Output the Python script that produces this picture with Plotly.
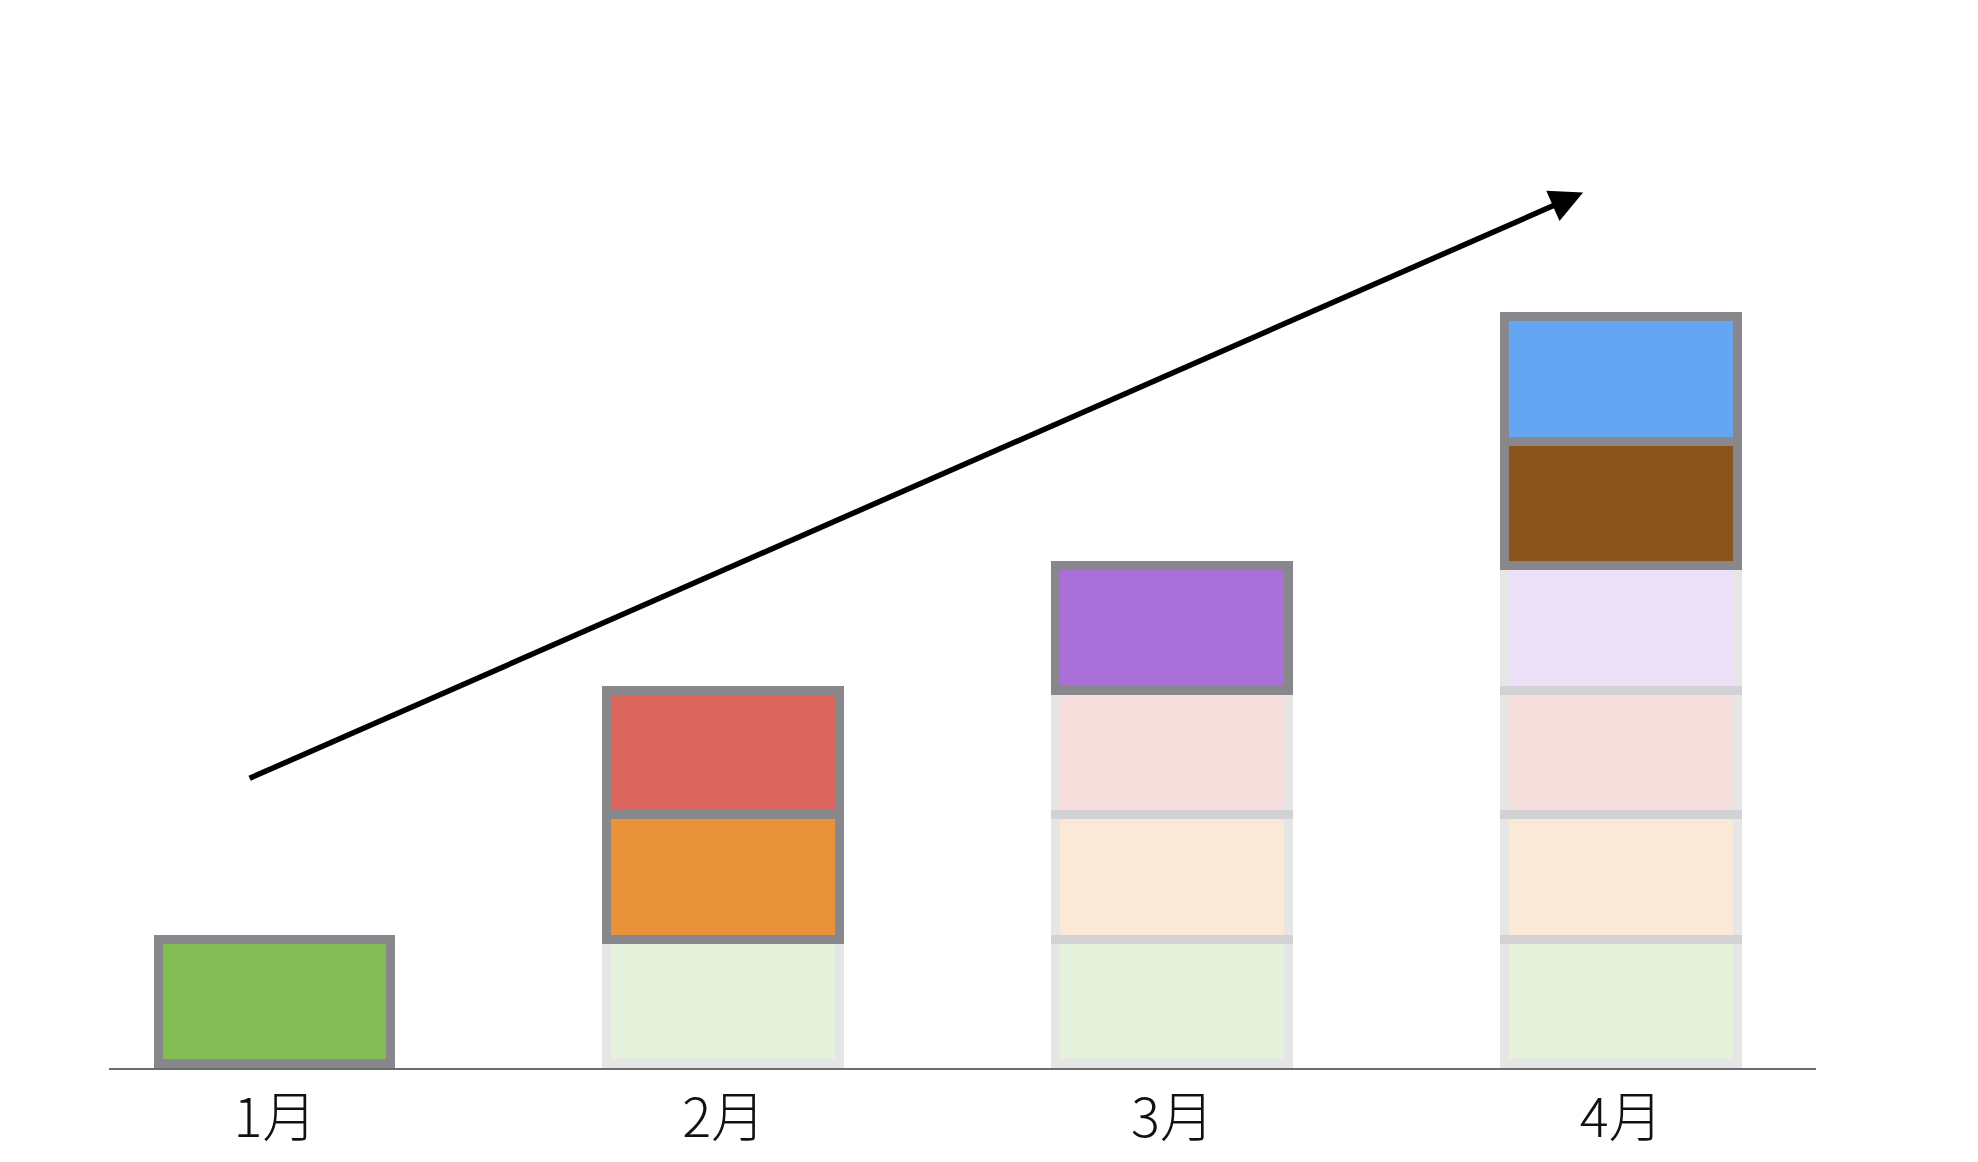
import plotly.graph_objects as go

# ---- data ----
months = ["1月", "2月", "3月", "4月"]

layer_names = ["green", "orange", "red", "purple", "brown", "blue"]
layer_values = [
    [1, 1, 1, 1],
    [None, 1, 1, 1],
    [None, 1, 1, 1],
    [None, None, 1, 1],
    [None, None, None, 1],
    [None, None, None, 1],
]
# month index at which each layer is "new" (highlighted)
layer_new_month = [0, 1, 1, 2, 3, 3]
layer_colors = ["#84BC55", "#E8933A", "#DB665E", "#A970DA", "#8B541D", "#65A6F3"]

# trend arrow (data coordinates: tail -> head)
arrow_tail = (-0.06, 2.29)
arrow_head = (2.915, 7.0)

# ---- figure ----
fig = go.Figure()
x_idx = list(range(len(months)))
for name, vals, new_m, col in zip(layer_names, layer_values, layer_new_month, layer_colors):
    opac = [1.0 if i == new_m else 0.2 for i in x_idx]
    fig.add_trace(go.Bar(
        x=x_idx, y=vals, name=name,
        width=0.519,
        marker=dict(color=col, opacity=opac,
                    line=dict(color="#88888C", width=9)),
        hoverinfo="skip",
    ))

fig.add_annotation(
    x=arrow_head[0], y=arrow_head[1], ax=arrow_tail[0], ay=arrow_tail[1],
    xref="x", yref="y", axref="x", ayref="y",
    showarrow=True, arrowhead=2, arrowsize=1.2, arrowwidth=5.5,
    arrowcolor="#000000", text="", standoff=0,
)

fig.update_layout(
    width=1970, height=1154,
    barmode="stack",
    showlegend=False,
    plot_bgcolor="white", paper_bgcolor="white",
    margin=dict(l=101, r=162, t=42, b=94),
    bargap=0,
)
fig.update_xaxes(
    range=[-0.370, 3.434],
    automargin=False,
    tickmode="array", tickvals=x_idx, ticktext=months,
    tickfont=dict(family="Noto Sans CJK JP", size=54, color="#111111", weight=300),
    ticklabelstandoff=2,
    showline=True, linecolor="#6B6B70", linewidth=2,
    showgrid=False, zeroline=False, ticks="",
)
fig.update_yaxes(
    range=[-0.032, 8.145],
    automargin=False,
    showgrid=False, zeroline=False, showticklabels=False, showline=False,
)

fig.write_html("out.html")
